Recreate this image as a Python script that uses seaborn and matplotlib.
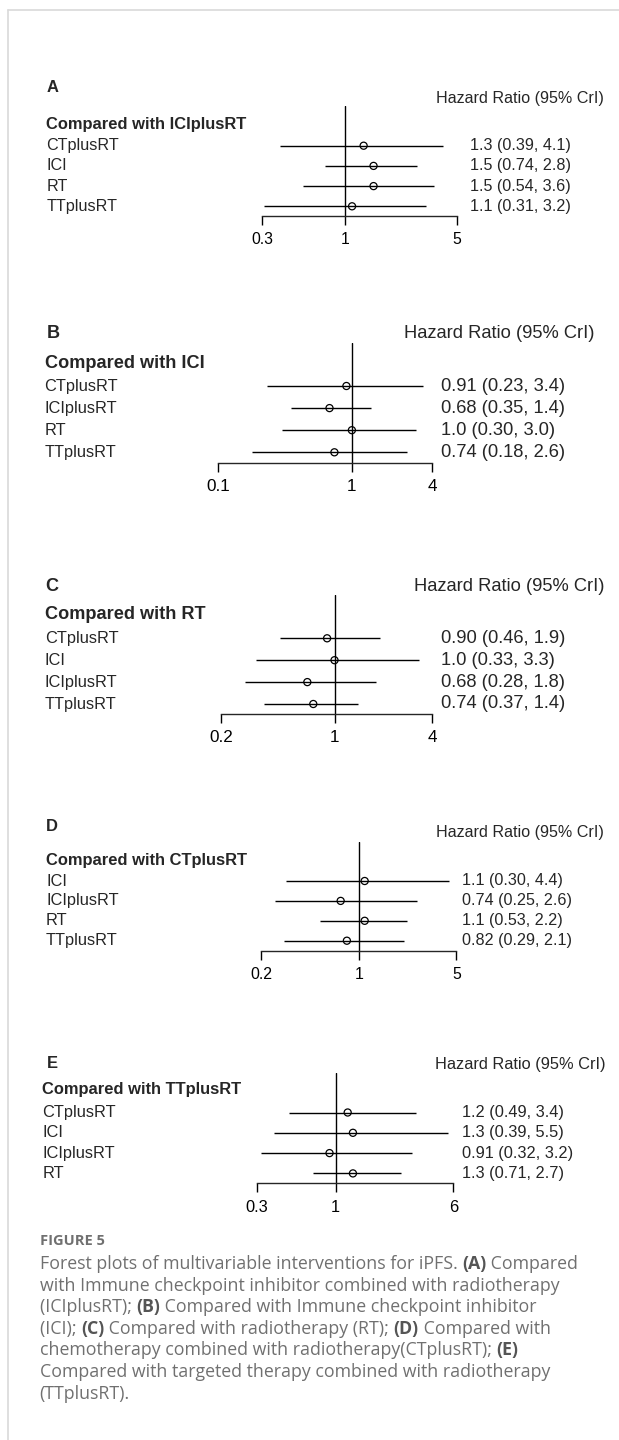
import matplotlib
matplotlib.use("Agg")
import matplotlib.pyplot as plt
import seaborn as sns
import numpy as np
import pandas as pd
from matplotlib.lines import Line2D
from matplotlib.transforms import blended_transform_factory

sns.set_style("white")
plt.rcParams["font.family"] = ["Liberation Sans", "DejaVu Sans"]

# --- data (hazard ratio, 95% CrI) ---
a_ref = "ICIplusRT"
a_labels = ["CTplusRT", "ICI", "RT", "TTplusRT"]
a_hr = [1.3, 1.5, 1.5, 1.1]
a_lo = [0.39, 0.74, 0.54, 0.31]
a_hi = [4.1, 2.8, 3.6, 3.2]
a_ticks = [0.3, 1, 5]

b_ref = "ICI"
b_labels = ["CTplusRT", "ICIplusRT", "RT", "TTplusRT"]
b_hr = [0.91, 0.68, 1.0, 0.74]
b_lo = [0.23, 0.35, 0.30, 0.18]
b_hi = [3.4, 1.4, 3.0, 2.6]
b_ticks = [0.1, 1, 4]

c_ref = "RT"
c_labels = ["CTplusRT", "ICI", "ICIplusRT", "TTplusRT"]
c_hr = [0.90, 1.0, 0.68, 0.74]
c_lo = [0.46, 0.33, 0.28, 0.37]
c_hi = [1.9, 3.3, 1.8, 1.4]
c_ticks = [0.2, 1, 4]

d_ref = "CTplusRT"
d_labels = ["ICI", "ICIplusRT", "RT", "TTplusRT"]
d_hr = [1.1, 0.74, 1.1, 0.82]
d_lo = [0.30, 0.25, 0.53, 0.29]
d_hi = [4.4, 2.6, 2.2, 2.1]
d_ticks = [0.2, 1, 5]

e_ref = "TTplusRT"
e_labels = ["CTplusRT", "ICI", "ICIplusRT", "RT"]
e_hr = [1.2, 1.3, 0.91, 1.3]
e_lo = [0.49, 0.39, 0.32, 0.71]
e_hi = [3.4, 5.5, 3.2, 2.7]
e_ticks = [0.3, 1, 6]

W, H = 619, 1440
fig = plt.figure(figsize=(W / 100, H / 100), dpi=100)


def fx(px):
    return px / W


def fy(py):
    return 1 - py / H


def fmt(v):
    return f"{v:#.2g}"


def tick_fmt(v):
    return f"{v:g}"


def forest(letter, ref, labels, hr, lo, hi, ticks, lay):
    df = pd.DataFrame({"label": labels, "hr": hr, "lo": lo, "hi": hi})
    df["row"] = np.arange(len(df))
    x0, x1, top, bot = lay["x0"], lay["x1"], lay["top"], lay["bot"]
    ax = fig.add_axes([fx(x0), fy(bot), (x1 - x0) / W, (bot - top) / H])
    ax.patch.set_alpha(0)
    ax.set_xscale("log")
    ax.set_xlim(ticks[0], ticks[-1])
    y0, step = lay["y0"], lay["step"]
    ax.set_ylim((bot - y0) / step, (top - y0) / step)

    ax.axvline(1, color="black", lw=1.0, zorder=1)
    ax.hlines(df["row"], df["lo"], df["hi"], color="black", lw=1.0, zorder=2)
    sns.scatterplot(data=df, x="hr", y="row", ax=ax, marker="o", s=26,
                    facecolor="none", edgecolor="black", linewidth=0.9,
                    zorder=3, legend=False)

    for s in ["top", "left", "right"]:
        ax.spines[s].set_visible(False)
    ax.spines["bottom"].set_linewidth(1.0)
    ax.set_xticks(ticks, [tick_fmt(t) for t in ticks])
    ax.minorticks_off()
    ax.set_yticks([])
    ax.set_xlabel("")
    ax.set_ylabel("")
    ax.tick_params(axis="x", bottom=True, direction="out", length=6.7,
                   width=1.0, pad=5.0, labelsize=lay["tfs"], colors="black")

    tr = blended_transform_factory(fig.transFigure, ax.transData)
    for _, r in df.iterrows():
        ax.text(fx(lay["lx"]), r["row"], r["label"], transform=tr,
                ha="left", va="center", fontsize=lay["fs"])
        ax.text(fx(lay["vx"]), r["row"],
                f"{fmt(r['hr'])} ({fmt(r['lo'])}, {fmt(r['hi'])})",
                transform=tr, ha="left", va="center", fontsize=lay["vfs"])

    fig.text(fx(lay["letter"][0]), fy(lay["letter"][1]), letter,
             fontweight="bold", fontsize=lay["cfs"], va="center", ha="left")
    fig.text(fx(lay["hz"][0]), fy(lay["hz"][1]), "Hazard Ratio (95% CrI)",
             fontsize=lay["vfs"], va="center", ha="left")
    fig.text(fx(lay["lx"]), fy(lay["cmp"]), f"Compared with {ref}",
             fontweight="bold", fontsize=lay["cfs"], va="center", ha="left")


lay_a = dict(x0=262, x1=457, top=106, bot=216, y0=145.7, step=20.2, lx=46.5,
             vx=470, letter=(46.5, 87), hz=(435.5, 99), cmp=124,
             fs=11.6, vfs=11.6, cfs=11.9, tfs=11.3)
lay_b = dict(x0=218.3, x1=432.3, top=342.7, bot=463, y0=386, step=22.1, lx=44.6,
             vx=441.4, letter=(47, 333), hz=(403.5, 334), cmp=363,
             fs=11.8, vfs=13.2, cfs=13.1, tfs=12.3)
lay_c = dict(x0=221, x1=432.3, top=595, bot=714, y0=638.3, step=21.9, lx=45,
             vx=441.4, letter=(45, 586.7), hz=(414.5, 586.7), cmp=615,
             fs=11.8, vfs=13.2, cfs=13.1, tfs=12.3)
lay_d = dict(x0=261.4, x1=456.4, top=841.7, bot=950.7, y0=881, step=19.9, lx=46,
             vx=462, letter=(46, 826.7), hz=(435.5, 832.3), cmp=860,
             fs=11.8, vfs=11.6, cfs=11.9, tfs=11.4)
lay_e = dict(x0=256.7, x1=453.3, top=1073.3, bot=1183.3, y0=1112.5, step=20.3,
             lx=42.3, vx=462, letter=(47, 1064), hz=(435, 1065), cmp=1089.3,
             fs=11.8, vfs=11.8, cfs=11.9, tfs=11.8)

forest("A", a_ref, a_labels, a_hr, a_lo, a_hi, a_ticks, lay_a)
forest("B", b_ref, b_labels, b_hr, b_lo, b_hi, b_ticks, lay_b)
forest("C", c_ref, c_labels, c_hr, c_lo, c_hi, c_ticks, lay_c)
forest("D", d_ref, d_labels, d_hr, d_lo, d_hi, d_ticks, lay_d)
forest("E", e_ref, e_labels, e_hr, e_lo, e_hi, e_ticks, lay_e)

# frame around the figure block
frame_col = "#d9d9d9"
fig.add_artist(Line2D([fx(8), 1], [fy(10), fy(10)], color=frame_col, lw=1.2))
fig.add_artist(Line2D([fx(8), fx(8)], [fy(10), 0], color=frame_col, lw=1.2))

# --- caption ---
cap_col = "#707070"
cap_bold = "#555555"
cap_font = ["Open Sans", "DejaVu Sans"]
fig.text(fx(39.5), fy(1241), "FIGURE 5", family=cap_font, fontweight="bold",
         fontsize=10.5, color=cap_col, va="center", ha="left")

cap_lines = [
    [("Forest plots of multivariable interventions for iPFS. ", 0), ("(A)", 1), (" Compared", 0)],
    [("with Immune checkpoint inhibitor combined with radiotherapy", 0)],
    [("(ICIplusRT); ", 0), ("(B)", 1), (" Compared with Immune checkpoint inhibitor", 0)],
    [("(ICI); ", 0), ("(C)", 1), (" Compared with radiotherapy (RT); ", 0), ("(D)", 1), (" Compared with", 0)],
    [("chemotherapy combined with radiotherapy(CTplusRT); ", 0), ("(E)", 1)],
    [("Compared with targeted therapy combined with radiotherapy", 0)],
    [("(TTplusRT).", 0)],
]
renderer = fig.canvas.get_renderer()
line_y = 1264
for segs in cap_lines:
    x = 39.5
    for txt, bold in segs:
        t = fig.text(fx(x), fy(line_y), txt, family=cap_font,
                     fontweight="bold" if bold else "normal",
                     color=cap_bold if bold else cap_col,
                     fontsize=12.75, va="center", ha="left")
        x += t.get_window_extent(renderer=renderer).width
    line_y += 21.6

fig.savefig("out.png", dpi=100, facecolor="white")
